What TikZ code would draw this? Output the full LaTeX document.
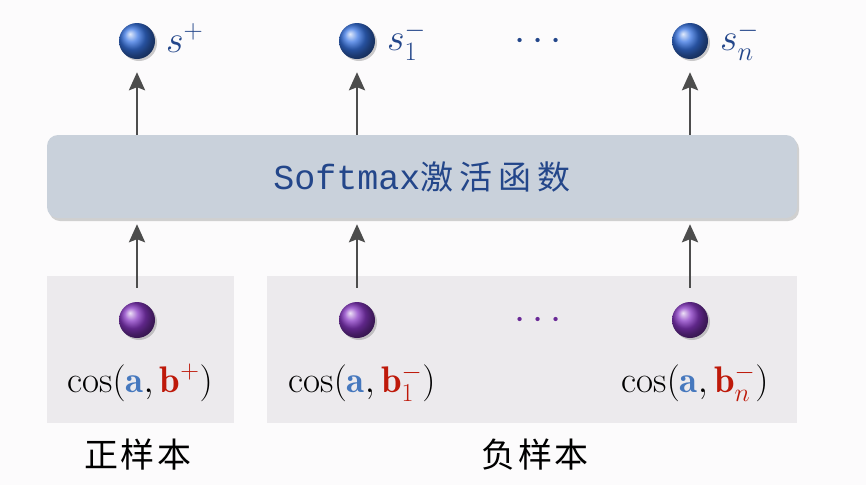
\documentclass[tikz,border=0pt]{standalone}
\usepackage{fix-cm}
\usepackage{fontspec}
\newfontfamily\cjk{Noto Sans CJK SC}
\newfontfamily\monof{Liberation Mono}
\usetikzlibrary{shadows,arrows.meta}
\definecolor{bgc}{RGB}{252,251,252}
\definecolor{panelc}{RGB}{236,234,237}
\definecolor{boxc}{RGB}{201,209,219}
\definecolor{dblue}{RGB}{35,70,138}
\definecolor{ablue}{RGB}{70,120,190}
\definecolor{bred}{RGB}{190,25,10}
\definecolor{arrc}{RGB}{77,77,77}
\definecolor{ballblue}{RGB}{55,115,225}
\definecolor{ballpurple}{RGB}{135,55,195}
\definecolor{dotpurple}{RGB}{105,40,150}
\begin{document}
\begin{tikzpicture}[x=1pt,y=-1pt,
  panel/.style={fill=panelc,draw=none,anchor=north west,inner sep=0},
  smbox/.style={fill=boxc,draw=none,rounded corners=11pt,inner sep=0,
     drop shadow={shadow xshift=2pt,shadow yshift=-3pt,opacity=0.35}},
  bball/.style={circle,inner sep=0,minimum size=36pt,shading=ball,ball color=ballblue,
     drop shadow={shadow xshift=2pt,shadow yshift=-2pt,opacity=0.4}},
  pball/.style={circle,inner sep=0,minimum size=36pt,shading=ball,ball color=ballpurple,
     drop shadow={shadow xshift=2pt,shadow yshift=-2pt,opacity=0.4}},
  slabel/.style={anchor=west,text=dblue,font=\fontsize{38}{44}\selectfont,inner sep=0},
  coslabel/.style={font=\fontsize{37}{42}\selectfont,inner sep=0},
  cnlabel/.style={font=\cjk\fontsize{34}{40}\selectfont,inner sep=0},
  arr/.style={draw=arrc,line width=2.8pt,-{Stealth[length=18pt,width=16pt,inset=3pt]}}
]
\fill[bgc] (0,0) rectangle (866,485);
\useasboundingbox (0,0) rectangle (866,485);

% panels
\node (ppos) [panel,minimum width=187pt,minimum height=147pt] at (47,276) {};
\node (pneg) [panel,minimum width=530pt,minimum height=147pt] at (267,276) {};

% softmax box
\node (sm) [smbox,minimum width=750pt,minimum height=83pt] at (422,176.5)
  {\textcolor{dblue}{{\monof\fontsize{35}{40}\selectfont Softmax}{\cjk\fontsize{33}{38}\selectfont 激\hspace{6pt}活\hspace{6pt}函\hspace{6pt}数}}};

% top balls
\node (t1) [bball] at (137,41) {};
\node (t2) [bball] at (357,41) {};
\node (t3) [bball] at (690,41) {};
\node (s1) [slabel] at (166,38) {$s^+$};
\node (s2) [slabel] at (387,41) {$s_1^-$};
\node (s3) [slabel] at (720,41) {$s_n^-$};
\node (tdots) [text=dblue,font=\fontsize{40}{44}\selectfont,inner sep=0] at (538,42) {$\cdots$};

% bottom balls
\node (b1) [pball] at (137,320) {};
\node (b2) [pball] at (357,320) {};
\node (b3) [pball] at (690,320) {};
\node (bdots) [text=dotpurple,font=\fontsize{40}{44}\selectfont,inner sep=0] at (538,321) {$\cdots$};

% cos labels
\node (c1) [coslabel] at (140,383) {$\mathrm{cos}(\textcolor{ablue}{\mathbf{a}},\textcolor{bred}{\mathbf{b}^+})$};
\node (c2) [coslabel] at (362,383) {$\mathrm{cos}(\textcolor{ablue}{\mathbf{a}},\textcolor{bred}{\mathbf{b}_1^-})$};
\node (c3) [coslabel] at (695,383) {$\mathrm{cos}(\textcolor{ablue}{\mathbf{a}},\textcolor{bred}{\mathbf{b}_n^-})$};

% group labels
\node (g1) [cnlabel] at (138,455) {正\hspace{3pt}样\hspace{3pt}本};
\node (g2) [cnlabel] at (535,455) {负\hspace{3pt}样\hspace{3pt}本};

% arrows
\draw[arr,shorten >=13pt] (sm.north -| t1) -- (t1.south);
\draw[arr,shorten >=13pt] (sm.north -| t2) -- (t2.south);
\draw[arr,shorten >=13pt] (sm.north -| t3) -- (t3.south);
\draw[arr,shorten <=14pt,shorten >=6pt] (b1.north) -- (sm.south -| b1);
\draw[arr,shorten <=14pt,shorten >=6pt] (b2.north) -- (sm.south -| b2);
\draw[arr,shorten <=14pt,shorten >=6pt] (b3.north) -- (sm.south -| b3);
\end{tikzpicture}
\end{document}
